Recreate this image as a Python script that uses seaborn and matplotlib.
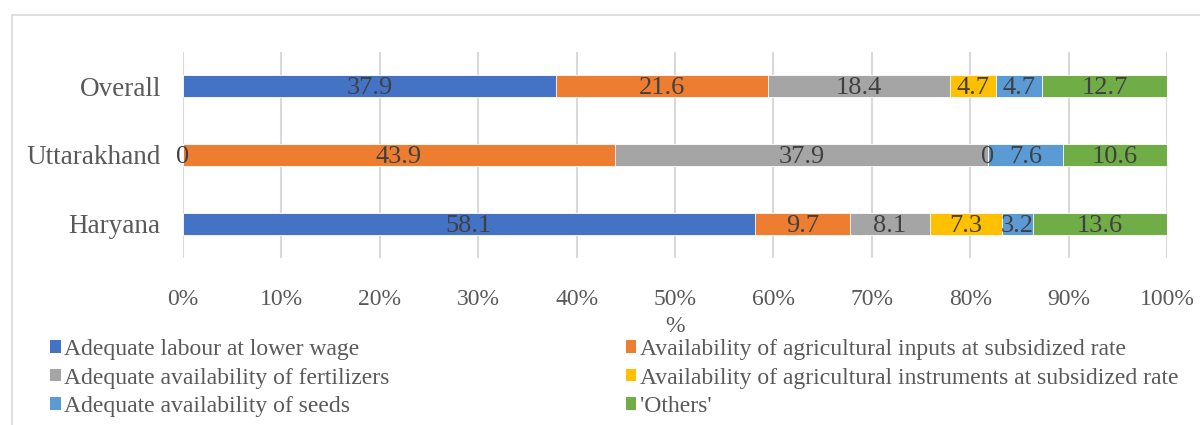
import numpy as np
import pandas as pd
import matplotlib
matplotlib.use("Agg")
import matplotlib.pyplot as plt
import seaborn as sns
from matplotlib.patches import Rectangle, Patch

# data (percent shares per region)
regions = ["Overall", "Uttarakhand", "Haryana"]
factors = [
    "Adequate labour at lower wage",
    "Availability of agricultural inputs at subsidized rate",
    "Adequate availability of fertilizers",
    "Availability of agricultural instruments at subsidized rate",
    "Adequate availability of seeds",
    "'Others'",
]
labour = [37.9, 0, 58.1]
inputs = [21.6, 43.9, 9.7]
fertilizers = [18.4, 37.9, 8.1]
instruments = [4.7, 0, 7.3]
seeds = [4.7, 7.6, 3.2]
others = [12.7, 10.6, 13.6]
xticks = [0, 10, 20, 30, 40, 50, 60, 70, 80, 90, 100]

colors = ["#4472C4", "#ED7D31", "#A5A5A5", "#FFC000", "#5B9BD5", "#70AD47"]

sns.set_theme(style="white")
plt.rcParams["font.family"] = ["Liberation Serif", "DejaVu Serif"]

series = [labour, inputs, fertilizers, instruments, seeds, others]
df = pd.DataFrame(dict(zip(factors, series)), index=regions)
cum = df.cumsum(axis=1)

fig = plt.figure(figsize=(12, 4.25), dpi=100)
ax = fig.add_axes([0.1525, 0.393, 0.82, 0.485])

# chart-area border like the spreadsheet export
fig.patches.append(Rectangle((12 / 1200, -0.1), 1.2, 1 - 15 / 425 + 0.1,
                             transform=fig.transFigure, fill=False,
                             edgecolor="#D9D9D9", linewidth=1.2, zorder=0))

# stacked bars: draw cumulative totals from widest to narrowest
for i in range(len(factors) - 1, -1, -1):
    col = factors[i]
    d = pd.DataFrame({"region": regions, "value": cum[col].values})
    sns.barplot(data=d, x="value", y="region", order=regions, color=colors[i],
                width=0.32, orient="h", ax=ax, edgecolor="white",
                linewidth=0.6, saturation=1, zorder=3)

# centred value labels
for i, col in enumerate(factors):
    for j, r in enumerate(regions):
        v = df.loc[r, col]
        mid = cum.loc[r, col] - v / 2
        ax.text(mid, j + 0.03, f"{v:g}", ha="center", va="center",
                fontsize=19, color="#404040", zorder=5)

ax.set_xlim(0, 100)
ax.set_ylim(2.5, -0.5)
ax.set_xticks(xticks)
ax.set_xticklabels([f"{t}%" for t in xticks], fontsize=17, color="#595959")
ax.tick_params(axis="x", length=0, pad=22)
ax.tick_params(axis="y", length=0, pad=16, labelsize=19.5, labelcolor="#595959")
ax.set_ylabel("")
ax.set_xlabel("%", fontsize=17, color="#595959", labelpad=5)
ax.grid(axis="x", color="#D9D9D9", linewidth=1.5, zorder=0)
ax.set_axisbelow(True)
for s in ax.spines.values():
    s.set_visible(False)

# legend filled row-wise: reorder for matplotlib's column-wise filling
handles = [Patch(facecolor=c, edgecolor="none") for c in colors]
order = [0, 2, 4, 1, 3, 5]
fig.legend([handles[k] for k in order], [factors[k] for k in order],
           ncol=2, loc="upper left", bbox_to_anchor=(50 / 1200, 1 - 339 / 425),
           frameon=False, fontsize=17, handlelength=0.45, handleheight=0.45,
           handletextpad=0.15, columnspacing=10.0, labelspacing=0.32,
           borderpad=0, borderaxespad=0, labelcolor="#595959")

fig.savefig("out.png", dpi=100)
